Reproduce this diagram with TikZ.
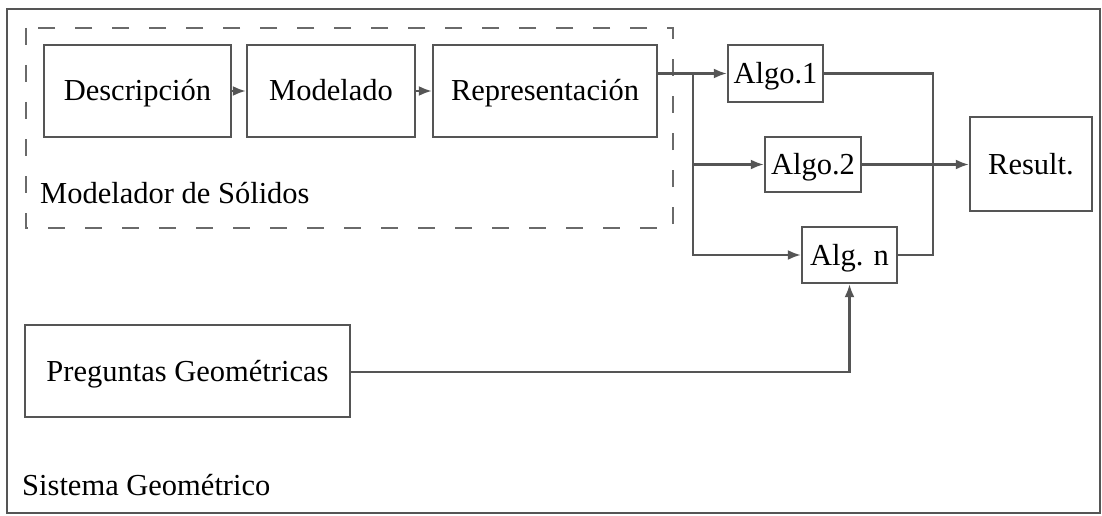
\documentclass[tikz,border=0pt]{standalone}
\usepackage{fontspec}
\setmainfont{Liberation Serif}
\usetikzlibrary{arrows.meta}
\definecolor{linegray}{HTML}{555555}
\definecolor{dashgray}{HTML}{6A6A6A}
\begin{document}
\begin{tikzpicture}[x=1pt,y=-1pt,
  txt/.style={font=\fontsize{30.5}{36}\selectfont, text=black},
  blk/.style={draw=linegray, line width=2.4pt, fill=white, inner sep=0pt,
    txt, text height=20pt, text depth=0pt},
  conn/.style={draw=linegray, line width=2.2pt},
  arr/.style={conn, -{Latex[length=13pt,width=10pt]}},
  groupbox/.style={draw=dashgray, line width=2.6pt, dash pattern=on 17pt off 20pt},
  outerbox/.style={draw=linegray, line width=2pt}
]
\useasboundingbox (0,0) rectangle (1102,516);
\fill[white] (0,0) rectangle (1102,516);

% outer system box
\draw[outerbox] (7,9) rectangle (1100,513);
\node[txt, anchor=base west, inner sep=0pt] (sis) at (22,495) {Sistema Geométrico};

% dashed solid modeller group
\draw[groupbox] (26,28) rectangle (673,228);
\node[txt, anchor=base west, inner sep=0pt] (mod) at (40,203) {Modelador de Sólidos};

% blocks
\node[blk, minimum width=187pt, minimum height=92pt] (desc) at (137.5,91) {Descripción};
\node[blk, minimum width=168pt, minimum height=92pt] (model) at (331,91) {Modelado};
\node[blk, minimum width=224pt, minimum height=92pt] (repr) at (545,91) {Representación};
\node[blk, minimum width=95pt, minimum height=57pt] (algo1) at (775.5,73.5) {Algo.1};
\node[blk, minimum width=96pt, minimum height=55pt] (algo2) at (813,164.5) {Algo.2};
\node[blk, minimum width=95pt, minimum height=56pt] (algn) at (849.5,255) {Alg. n};
\node[blk, minimum width=122pt, minimum height=94pt] (result) at (1031,164) {Result.};
\node[blk, minimum width=325pt, minimum height=92pt] (preg) at (187.5,371) {Preguntas Geométricas};

% junction coordinates
\coordinate (split) at (693,73.5);
\coordinate (merge) at (933,73.5);

% connectors
\draw[arr] (desc) -- (model);
\draw[arr] (model) -- (repr);
\draw[arr] (repr.east |- algo1.west) -- (algo1.west);
\draw[arr] (split) |- (algo2.west);
\draw[arr] (split) |- (algn.west);
\draw[conn] (algo1.east) -- (merge) |- (algn.east);
\draw[arr] (algo2.east) -- (result.west |- algo2.east);
\draw[arr] (preg.east |- 0,372) -| (algn.south);
\end{tikzpicture}
\end{document}
